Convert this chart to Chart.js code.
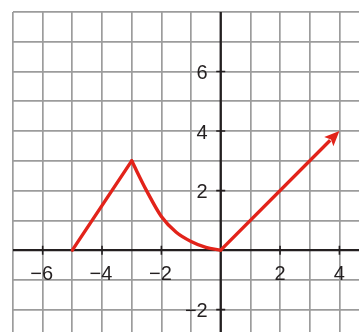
<!DOCTYPE html>
<html>
<head>
<meta charset="utf-8">
<script src="https://cdn.jsdelivr.net/npm/chart.js@4"></script>
<style>
  body { margin: 0; background: #fff; }
  canvas { display: block; }
</style>
</head>
<body>
<canvas id="graph" width="359" height="332"></canvas>
<script>
// tick labels on the axes
const xTicks = [-6, -4, -2, 2, 4];
const yTicks = [-2, 2, 4, 6];

// pieces of the red graph
const riseX = [-5, -3];
const riseY = [0, 3];
const curveX = [-3, -2.5, -2, -1.5, -1, -0.5, 0];
const curveY = [3, 2.0, 1.13, 0.6, 0.29, 0.09, 0];
const rayX = [0, 4];
const rayY = [0, 4];

const RED = '#e2231a';
const INK = '#231f20';

function pts(xs, ys) {
    return xs.map((x, i) => ({ x: x, y: ys[i] }));
}

function redLine(xs, ys, curved) {
    return {
        data: pts(xs, ys),
        showLine: true,
        borderColor: RED,
        borderWidth: 3.4,
        pointRadius: 0,
        cubicInterpolationMode: curved ? 'monotone' : 'default',
        tension: 0,
        borderCapStyle: 'round'
    };
}

// arrowhead geometry from the last two points of a dataset
function arrowGeom(chart, index) {
    const d = chart.getDatasetMeta(index).data;
    const tip = d[d.length - 1], prev = d[d.length - 2];
    const len = Math.hypot(tip.x - prev.x, tip.y - prev.y);
    const ux = (tip.x - prev.x) / len, uy = (tip.y - prev.y) / len;
    return { tip, ux, uy, nx: -uy, ny: ux, L: 15, W: 6.5 };
}

const axesPlugin = {
    id: 'axes',
    beforeDatasetsDraw(chart) {
        const { ctx, chartArea, scales: { x, y } } = chart;
        const x0 = x.getPixelForValue(0), y0 = y.getPixelForValue(0);
        ctx.save();
        ctx.strokeStyle = INK;
        ctx.lineWidth = 2.3;
        ctx.beginPath();
        ctx.moveTo(chartArea.left, y0);
        ctx.lineTo(chartArea.right, y0);
        ctx.moveTo(x0, chartArea.top);
        ctx.lineTo(x0, chartArea.bottom);
        ctx.stroke();

        ctx.lineWidth = 1.6;
        ctx.beginPath();
        xTicks.forEach(v => {
            const px = x.getPixelForValue(v);
            ctx.moveTo(px, y0 - 4.5);
            ctx.lineTo(px, y0 + 4.5);
        });
        yTicks.forEach(v => {
            const py = y.getPixelForValue(v);
            ctx.moveTo(x0 - 4.5, py);
            ctx.lineTo(x0 + 4.5, py);
        });
        ctx.stroke();

        ctx.fillStyle = INK;
        ctx.font = '20px "Liberation Sans", Arial, sans-serif';
        ctx.textAlign = 'center';
        ctx.textBaseline = 'middle';
        xTicks.forEach(v => {
            const label = v < 0 ? '\u2212' + Math.abs(v) : String(v);
            ctx.fillText(label, x.getPixelForValue(v) - (v < 0 ? 1 : 0), y0 + 24);
        });
        ctx.textAlign = 'right';
        yTicks.forEach(v => {
            const label = v < 0 ? '\u2212' + Math.abs(v) : String(v);
            ctx.fillText(label, x0 - 13, y.getPixelForValue(v) + 2);
        });
        ctx.restore();
    },
    beforeDatasetDraw(chart, args) {
        if (args.index !== 2) return;
        // keep the shaft from poking out past the arrowhead
        const g = arrowGeom(chart, 2);
        const bx = g.tip.x - g.ux * (g.L - 2), by = g.tip.y - g.uy * (g.L - 2);
        const ctx = chart.ctx;
        ctx.save();
        ctx.beginPath();
        ctx.moveTo(bx + g.nx * 2000, by + g.ny * 2000);
        ctx.lineTo(bx - g.nx * 2000, by - g.ny * 2000);
        ctx.lineTo(bx - g.nx * 2000 - g.ux * 2000, by - g.ny * 2000 - g.uy * 2000);
        ctx.lineTo(bx + g.nx * 2000 - g.ux * 2000, by + g.ny * 2000 - g.uy * 2000);
        ctx.closePath();
        ctx.clip();
    },
    afterDatasetDraw(chart, args) {
        if (args.index !== 2) return;
        const ctx = chart.ctx;
        ctx.restore();
        const g = arrowGeom(chart, 2);
        const bx = g.tip.x - g.ux * g.L, by = g.tip.y - g.uy * g.L;
        ctx.save();
        ctx.fillStyle = RED;
        ctx.beginPath();
        ctx.moveTo(g.tip.x, g.tip.y);
        ctx.lineTo(bx + g.nx * g.W, by + g.ny * g.W);
        ctx.lineTo(bx + g.ux * 3, by + g.uy * 3);
        ctx.lineTo(bx - g.nx * g.W, by - g.ny * g.W);
        ctx.closePath();
        ctx.fill();
        ctx.restore();
    }
};

const gridOpts = {
    color: '#9c9c9c',
    lineWidth: 1.7,
    drawTicks: false
};

new Chart(document.getElementById('graph'), {
    type: 'scatter',
    data: {
        datasets: [
            redLine(riseX, riseY, false),
            redLine(curveX, curveY, true),
            redLine(rayX, rayY, false)
        ]
    },
    options: {
        responsive: false,
        animation: false,
        layout: { padding: { left: 13, top: 12, right: 0, bottom: 0 } },
        plugins: {
            legend: { display: false },
            tooltip: { enabled: false }
        },
        scales: {
            x: {
                type: 'linear',
                min: -7,
                max: 4.66,
                ticks: { display: false, stepSize: 1, includeBounds: false },
                grid: gridOpts,
                border: { display: false }
            },
            y: {
                type: 'linear',
                min: -2.75,
                max: 8,
                ticks: { display: false, stepSize: 1, includeBounds: false },
                grid: gridOpts,
                border: { display: false }
            }
        }
    },
    plugins: [axesPlugin]
});
</script>
</body>
</html>
